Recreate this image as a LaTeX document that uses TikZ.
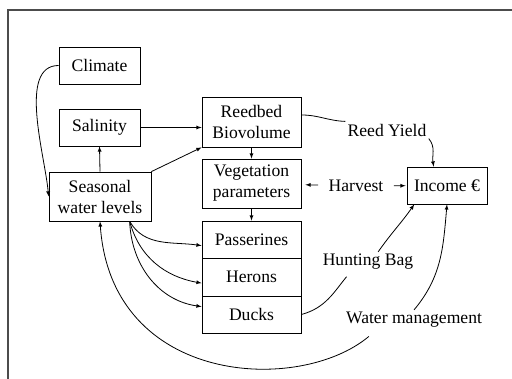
\documentclass[tikz,border=0pt]{standalone}
\usepackage{fontspec}
\setmainfont{Liberation Serif}
\begin{document}
\begin{tikzpicture}[x=1pt, y=1pt, line width=0.8pt,
  box/.style={draw, inner sep=0pt, align=center, font=\fontsize{17.6}{21}\selectfont},
  lbl/.style={inner sep=2pt, font=\fontsize{17.6}{21}\selectfont}]
  \useasboundingbox (0,0) rectangle (512,379);
  \draw[black!70, line width=1.2pt] (8,0) -- (8,369) -- (512,369);

  \node[box, minimum width=81pt, minimum height=37pt] (climate) at (99.5,313.5) {Climate};
  \node[box, minimum width=81pt, minimum height=37pt] (salinity) at (99.5,251.5) {Salinity};
  \node[box, minimum width=102pt, minimum height=49pt] (seasonal) at (100,182.5) {Seasonal\\water levels};
  \node[box, minimum width=99pt, minimum height=50pt] (reedbed) at (251.5,257) {Reedbed\\Biovolume};
  \node[box, minimum width=99pt, minimum height=49pt] (vegetation) at (251.5,195.5) {Vegetation\\parameters};
  \node[box, minimum width=99pt, minimum height=37pt] (passerines) at (251.5,139.5) {Passerines};
  \node[box, minimum width=99pt, minimum height=38pt] (herons) at (251.5,102) {Herons};
  \node[box, minimum width=99pt, minimum height=37pt] (ducks) at (251.5,64.5) {Ducks};
  \node[box, minimum width=80pt, minimum height=37pt] (income) at (447,193.5) {Income €};

  \node[lbl] (reedyield) at (387,249) {Reed Yield};
  \node[lbl] (harvest) at (356,193) {Harvest};
  \node[lbl] (huntingbag) at (368,117) {Hunting Bag};
  \node[lbl] (watermgmt) at (414,59) {Water management};

  \draw[-latex] (climate.west) to[out=180, in=95, looseness=0.8] (seasonal.west);
  \draw[-latex] (seasonal.north) -- (salinity.south);
  \draw[-latex] (salinity.east) -- (salinity.east -| reedbed.west);
  \draw[-latex] (seasonal.north east) -- (reedbed.south west);
  \draw[-latex] (reedbed.south) -- (vegetation.north);
  \draw[-latex] (vegetation.south) -- (passerines.north);
  \draw[-latex] (seasonal.-40) to[out=-60, in=172] (passerines.187);
  \draw[-latex] (seasonal.-40) to[out=-75, in=170] (herons.187);
  \draw[-latex] (seasonal.-40) to[out=-88, in=172] (ducks.171);

  \draw (reedbed.8) to[out=0, in=178] (reedyield.north west);
  \draw[-latex] (reedyield.south east) to[out=-50, in=100] (income.125);
  \draw[-latex, shorten <=8pt, shorten >=4pt] (harvest) -- (vegetation);
  \draw[-latex, shorten <=8pt, shorten >=1pt] (harvest) -- (income);
  \draw[shorten >=6pt] (ducks.east) to[out=15, in=-130] (huntingbag.-150);
  \draw[-latex] (huntingbag.45) to[out=55, in=-125] (income.-150);
  \draw[-latex] (watermgmt.north) to[out=50, in=-95] (income.south);
  \draw[-latex, shorten <=10pt] (watermgmt.-165) .. controls +(-140:100) and +(-86:165) .. (seasonal.south);
\end{tikzpicture}
\end{document}
